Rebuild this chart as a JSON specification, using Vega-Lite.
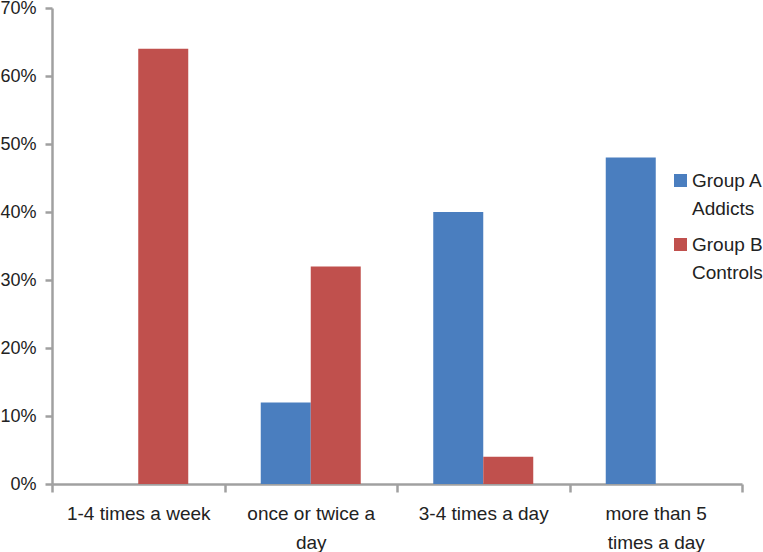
{
  "$schema": "https://vega.github.io/schema/vega-lite/v6.json",
  "width": 690,
  "height": 476,
  "autosize": {"type": "none"},
  "padding": {"left": 52, "top": 8, "right": 21, "bottom": 68},
  "background": "white",
  "config": {
    "view": {"stroke": null},
    "font": "Liberation Sans",
    "style": {"guide-label": {"lineHeight": 28}},
    "axis": {"grid": false, "domainColor": "#A0A0A0", "domainWidth": 2.5, "tickColor": "#A0A0A0", "tickWidth": 2.5, "labelColor": "#222222", "labelFontSize": 19, "labelFont": "Liberation Sans", "title": null}
  },
  "data": {
    "values": [
      {"freq": "1-4 times a week", "group": "Group A Addicts", "pct": 0},
      {"freq": "1-4 times a week", "group": "Group B Controls", "pct": 64},
      {"freq": "once or twice a day", "group": "Group A Addicts", "pct": 12},
      {"freq": "once or twice a day", "group": "Group B Controls", "pct": 32},
      {"freq": "3-4 times a day", "group": "Group A Addicts", "pct": 40},
      {"freq": "3-4 times a day", "group": "Group B Controls", "pct": 4},
      {"freq": "more than 5 times a day", "group": "Group A Addicts", "pct": 48},
      {"freq": "more than 5 times a day", "group": "Group B Controls", "pct": 0}
    ]
  },
  "mark": {"type": "bar"},
  "encoding": {
    "x": {
      "field": "freq", "type": "nominal",
      "sort": ["1-4 times a week", "once or twice a day", "3-4 times a day", "more than 5 times a day"],
      "scale": {"paddingInner": 0, "paddingOuter": 0},
      "axis": {
        "labelAngle": 0, "tickBand": "extent", "tickSize": 8, "labelPadding": 12, "labelLineHeight": 29, "labelBaseline": "top",
        "labelExpr": "datum.value == 'once or twice a day' ? ['once or twice a', 'day'] : datum.value == 'more than 5 times a day' ? ['more than 5', 'times a day'] : datum.value"
      }
    },
    "xOffset": {"field": "group", "type": "nominal", "scale": {"paddingInner": 0, "paddingOuter": 0.725}},
    "y": {
      "field": "pct", "type": "quantitative",
      "scale": {"domain": [0, 70], "nice": false},
      "axis": {"values": [0, 10, 20, 30, 40, 50, 60, 70], "tickSize": 7, "labelPadding": 9, "labelFontSize": 18, "labelExpr": "datum.value + '%'"}
    },
    "color": {
      "field": "group", "type": "nominal",
      "scale": {"domain": ["Group A Addicts", "Group B Controls"], "range": ["#4A7EBF", "#C0504D"]},
      "legend": {
        "title": null, "orient": "none", "legendX": 619, "legendY": 163,
        "symbolType": "square", "symbolSize": 169, "symbolStrokeWidth": 0,
        "labelFontSize": 19, "labelFont": "Liberation Sans", "labelColor": "#222222",
        "rowPadding": 16, "labelOffset": 2, "labelLimit": 200,
        "labelExpr": "datum.value == 'Group A Addicts' ? ['Group A', 'Addicts'] : ['Group B', 'Controls']"
      }
    }
  }
}
